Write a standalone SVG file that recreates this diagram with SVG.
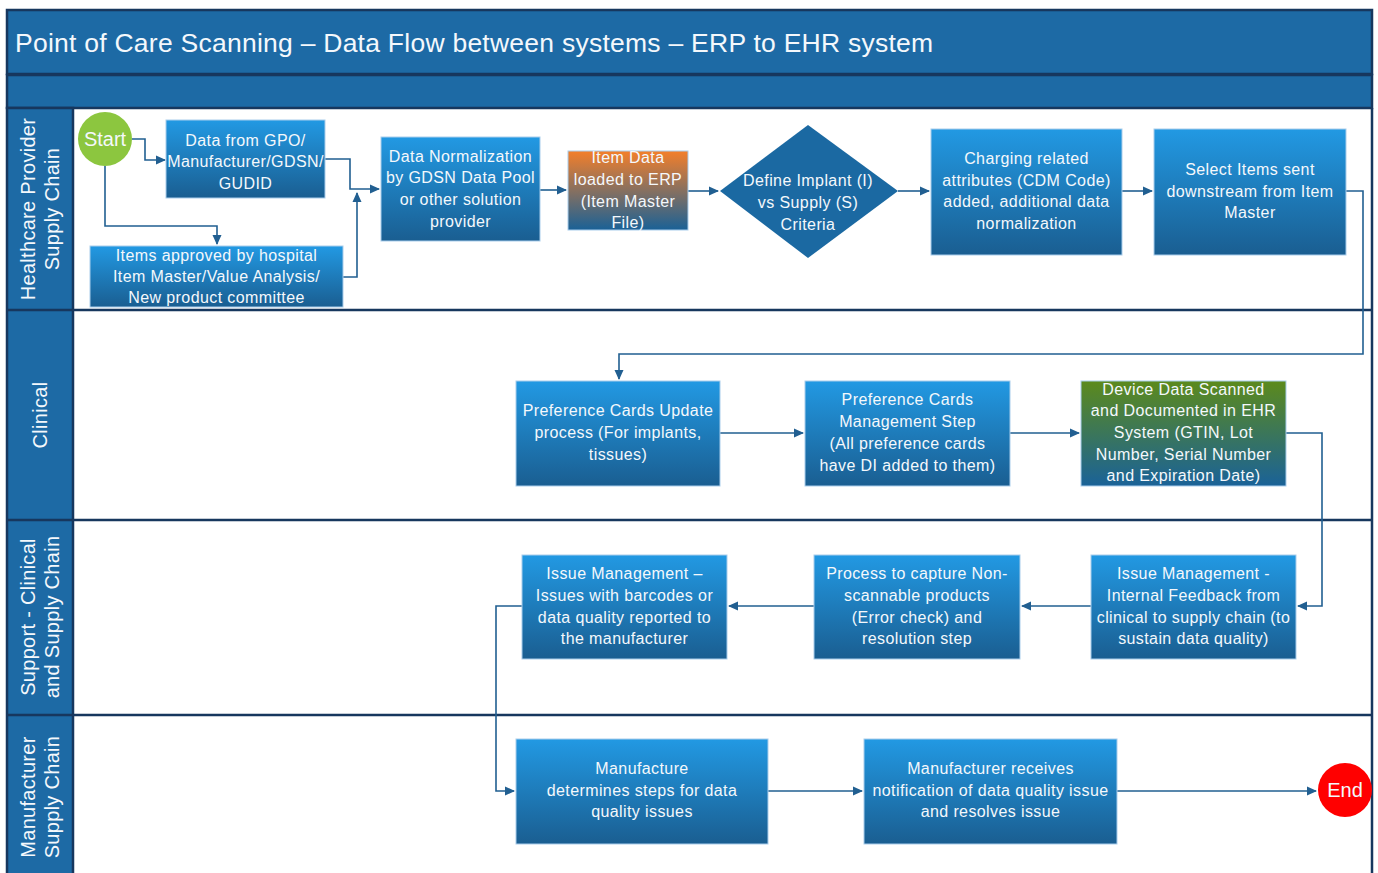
<svg xmlns="http://www.w3.org/2000/svg" width="1378" height="873" viewBox="0 0 1378 873">
<style>
.t{font-family:"Liberation Sans",Arial,sans-serif;fill:#F4F8FC;font-size:16px;letter-spacing:0.4px;text-anchor:middle}
.lane{font-family:"Liberation Sans",Arial,sans-serif;fill:#F4F8FC;font-size:20px;letter-spacing:0.3px;text-anchor:middle}
.big{font-size:20px;letter-spacing:0}
.box{fill:url(#gb);stroke:#A9CDEB;stroke-width:1}
.c{fill:none;stroke:#215F91;stroke-width:1.6;marker-end:url(#ah)}
.sep{stroke:#17375E;stroke-width:2.5}
</style>
<defs>
<linearGradient id="gb" x1="0" y1="0" x2="0" y2="1">
<stop offset="0" stop-color="#2299E3"/><stop offset="1" stop-color="#1A5E91"/>
</linearGradient>
<linearGradient id="go" x1="0" y1="0" x2="0" y2="1">
<stop offset="0" stop-color="#F47F2A"/><stop offset="1" stop-color="#1A6196"/>
</linearGradient>
<linearGradient id="gg" x1="0" y1="0" x2="0" y2="1">
<stop offset="0" stop-color="#5C8A1C"/><stop offset="1" stop-color="#1A6298"/>
</linearGradient>
<marker id="ah" markerWidth="10" markerHeight="10" refX="9" refY="5" orient="auto" markerUnits="userSpaceOnUse">
<path d="M0,0.5 L10,5 L0,9.5 Z" fill="#215F91"/>
</marker>
</defs>
<rect x="0" y="0" width="1378" height="873" fill="#FFFFFF"/>
<g id="frame">
<rect x="7" y="10" width="1365" height="64" fill="#1D6AA5" stroke="#17375E" stroke-width="2.5"/>
<rect x="7" y="75" width="1365" height="33" fill="#1D6AA5" stroke="#17375E" stroke-width="2.5"/>
<rect x="7" y="108" width="66" height="770" fill="#1D6AA5" stroke="#17375E" stroke-width="2.5"/>
<line class="sep" x1="7" y1="310" x2="1372" y2="310"/>
<line class="sep" x1="7" y1="520" x2="1372" y2="520"/>
<line class="sep" x1="7" y1="715" x2="1372" y2="715"/>
<line class="sep" x1="1372" y1="108" x2="1372" y2="873"/>
<text x="15" y="52" font-family="'Liberation Sans',Arial,sans-serif" font-size="26.5" letter-spacing="0.25" fill="#F4F8FC">Point of Care Scanning – Data Flow between systems – ERP to EHR system</text>
<text class="lane" transform="translate(40,209) rotate(-90)"><tspan x="0" y="-5">Healthcare Provider</tspan><tspan x="0" y="19">Supply Chain</tspan></text>
<text class="lane" transform="translate(40,415) rotate(-90)"><tspan x="0" y="7">Clinical</tspan></text>
<text class="lane" transform="translate(40,617) rotate(-90)"><tspan x="0" y="-5">Support - Clinical</tspan><tspan x="0" y="19">and Supply Chain</tspan></text>
<text class="lane" transform="translate(40,797) rotate(-90)"><tspan x="0" y="-5">Manufacturer</tspan><tspan x="0" y="19">Supply Chain</tspan></text>
</g>
<g id="connectors">
<path class="c" d="M132,139 H145 V160 H165"/>
<path class="c" d="M105,166 V226 H217 V244"/>
<path class="c" d="M325,159 H350 V189 H379"/>
<path class="c" d="M343,277 H357 V193"/>
<path class="c" d="M540,190 H566"/>
<path class="c" d="M688,191 H718"/>
<path class="c" d="M898,191 H929"/>
<path class="c" d="M1122,191 H1152"/>
<path class="c" d="M1346,191 H1363 V354 H619 V379"/>
<path class="c" d="M720,433 H803"/>
<path class="c" d="M1010,433 H1079"/>
<path class="c" d="M1286,433 H1322 V606 H1298"/>
<path class="c" d="M1091,606 H1022"/>
<path class="c" d="M814,606 H729"/>
<path class="c" d="M522,606 H496 V791 H514"/>
<path class="c" d="M768,791 H862"/>
<path class="c" d="M1117,791 H1316"/>
</g>
<g id="start">
<circle cx="105" cy="139" r="27" fill="#8CC63F"/>
<text class="t big" x="105" y="146">Start</text>
</g>
<g id="gpo">
<rect class="box" x="166" y="120" width="159" height="78"/>
<text class="t"><tspan x="245.5" y="146">Data from GPO/</tspan><tspan x="245.5" y="167">Manufacturer/GDSN/</tspan><tspan x="245.5" y="189">GUDID</tspan></text>
</g>
<g id="approved">
<rect class="box" x="90" y="246" width="253" height="61"/>
<text class="t"><tspan x="216.5" y="261">Items approved by hospital</tspan><tspan x="216.5" y="282">Item Master/Value Analysis/</tspan><tspan x="216.5" y="303">New product committee</tspan></text>
</g>
<g id="normalization">
<rect class="box" x="381" y="137" width="159" height="104"/>
<text class="t"><tspan x="460.5" y="162">Data Normalization</tspan><tspan x="460.5" y="183">by GDSN Data Pool</tspan><tspan x="460.5" y="205">or other solution</tspan><tspan x="460.5" y="227">provider</tspan></text>
</g>
<g id="erp">
<rect x="568" y="151" width="120" height="79" fill="url(#go)" stroke="#A9CDEB" stroke-width="1"/>
<text class="t"><tspan x="628" y="163">Item Data</tspan><tspan x="628" y="185">loaded to ERP</tspan><tspan x="628" y="207">(Item Master</tspan><tspan x="628" y="228">File)</tspan></text>
</g>
<g id="define">
<polygon points="808,125 898,191 808,258 720,191" fill="#1B69A2"/>
<text class="t"><tspan x="808" y="186">Define Implant (I)</tspan><tspan x="808" y="208">vs Supply (S)</tspan><tspan x="808" y="230">Criteria</tspan></text>
</g>
<g id="charging">
<rect class="box" x="931" y="129" width="191" height="126"/>
<text class="t"><tspan x="1026.5" y="164">Charging related</tspan><tspan x="1026.5" y="186">attributes (CDM Code)</tspan><tspan x="1026.5" y="207">added, additional data</tspan><tspan x="1026.5" y="229">normalization</tspan></text>
</g>
<g id="select">
<rect class="box" x="1154" y="129" width="192" height="126"/>
<text class="t"><tspan x="1250" y="175">Select Items sent</tspan><tspan x="1250" y="197">downstream from Item</tspan><tspan x="1250" y="218">Master</tspan></text>
</g>
<g id="prefupdate">
<rect class="box" x="516" y="381" width="204" height="105"/>
<text class="t"><tspan x="618" y="416">Preference Cards Update</tspan><tspan x="618" y="438">process (For implants,</tspan><tspan x="618" y="460">tissues)</tspan></text>
</g>
<g id="prefmgmt">
<rect class="box" x="805" y="381" width="205" height="105"/>
<text class="t"><tspan x="907.5" y="405">Preference Cards</tspan><tspan x="907.5" y="427">Management Step</tspan><tspan x="907.5" y="449">(All preference cards</tspan><tspan x="907.5" y="471">have DI added to them)</tspan></text>
</g>
<g id="device">
<rect x="1081" y="381" width="205" height="105" fill="url(#gg)" stroke="#A9CDEB" stroke-width="1"/>
<text class="t"><tspan x="1183.5" y="395">Device Data Scanned</tspan><tspan x="1183.5" y="416">and Documented in EHR</tspan><tspan x="1183.5" y="438">System (GTIN, Lot</tspan><tspan x="1183.5" y="460">Number, Serial Number</tspan><tspan x="1183.5" y="481">and Expiration Date)</tspan></text>
</g>
<g id="issuebarcode">
<rect class="box" x="522" y="555" width="205" height="104"/>
<text class="t"><tspan x="624.5" y="579">Issue Management –</tspan><tspan x="624.5" y="601">Issues with barcodes or</tspan><tspan x="624.5" y="623">data quality reported to</tspan><tspan x="624.5" y="644">the manufacturer</tspan></text>
</g>
<g id="nonscan">
<rect class="box" x="814" y="555" width="206" height="104"/>
<text class="t"><tspan x="917" y="579">Process to capture Non-</tspan><tspan x="917" y="601">scannable products</tspan><tspan x="917" y="623">(Error check) and</tspan><tspan x="917" y="644">resolution step</tspan></text>
</g>
<g id="issueinternal">
<rect class="box" x="1091" y="555" width="205" height="104"/>
<text class="t"><tspan x="1193.5" y="579">Issue Management -</tspan><tspan x="1193.5" y="601">Internal Feedback from</tspan><tspan x="1193.5" y="623">clinical to supply chain (to</tspan><tspan x="1193.5" y="644">sustain data quality)</tspan></text>
</g>
<g id="mfrsteps">
<rect class="box" x="516" y="739" width="252" height="105"/>
<text class="t"><tspan x="642" y="774">Manufacture</tspan><tspan x="642" y="796">determines steps for data</tspan><tspan x="642" y="817">quality issues</tspan></text>
</g>
<g id="mfrresolve">
<rect class="box" x="864" y="739" width="253" height="105"/>
<text class="t"><tspan x="990.5" y="774">Manufacturer receives</tspan><tspan x="990.5" y="796">notification of data quality issue</tspan><tspan x="990.5" y="817">and resolves issue</tspan></text>
</g>
<g id="end">
<circle cx="1345" cy="790" r="27" fill="#FF0000"/>
<text class="t big" x="1345" y="797">End</text>
</g>
</svg>
